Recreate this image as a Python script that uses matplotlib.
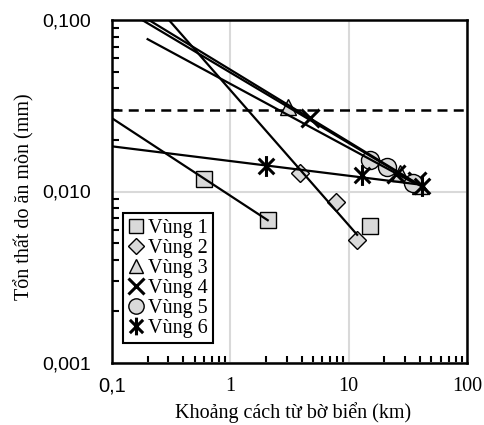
import numpy as np
import matplotlib
matplotlib.use("Agg")
import matplotlib.pyplot as plt
from matplotlib.path import Path
from matplotlib.lines import Line2D

# ---- data ----
labels = ["Vùng 1", "Vùng 2", "Vùng 3", "Vùng 4", "Vùng 5", "Vùng 6"]
x1 = [0.6, 2.07, 15.0];   y1 = [0.0119, 0.0068, 0.0063]
x2 = [3.9, 7.8, 11.8];    y2 = [0.0128, 0.0087, 0.0052]
x3 = [3.1, 27.0, 40.0];   y3 = [0.031, 0.0128, 0.0108]
x4 = [4.7, 25.0, 38.0];   y4 = [0.027, 0.0127, 0.0115]
x5 = [15.0, 21.0, 35.0];  y5 = [0.0153, 0.0139, 0.0112]
x6 = [2.0, 13.0, 42.0];   y6 = [0.0140, 0.0125, 0.0107]
limit_value = 0.03
xticks = [0.1, 1, 10, 100]
xtick_labels = ["0,1", "1", "10", "100"]
yticks = [0.001, 0.01, 0.1]
ytick_labels = ["0,001", "0,010", "0,100"]

# trend-line settings: number of points used in fit, start of backward forecast
fit_counts = [2, 3, 3, 3, 3, 3]
fit_starts = [0.1, 0.1, 0.1, 0.1, 0.2, 0.1]

SERIF = "Liberation Serif"
SANS = "Liberation Sans"

fig = plt.figure(figsize=(4.84, 4.25), dpi=100)
ax = fig.add_axes([112/484, 1-363/425, 355/484, 343/425])
ax.set_xscale("log")
ax.set_yscale("log")
ax.set_xlim(0.1, 100)
ax.set_ylim(0.001, 0.1)

ast = Path([(0, -1), (0, 1), (-0.75, -0.75), (0.75, 0.75), (-0.75, 0.75), (0.75, -0.75)],
           [Path.MOVETO, Path.LINETO, Path.MOVETO, Path.LINETO, Path.MOVETO, Path.LINETO])

face = "#d9d9d9"
styles = [
    dict(marker="s", ms=12, mfc=face, mec="black", mew=1.0),
    dict(marker="D", ms=9, mfc=face, mec="black", mew=1.0),
    dict(marker="^", ms=12, mfc=face, mec="black", mew=1.0),
    dict(marker="x", ms=13, mfc="none", mec="black", mew=2.2),
    dict(marker="o", ms=13, mfc=face, mec="black", mew=1.0),
    dict(marker=ast, ms=15, mfc="none", mec="black", mew=2.2),
]
xs = [x1, x2, x3, x4, x5, x6]
ys = [y1, y2, y3, y4, y5, y6]

handles = []
for xv, yv, st, lab, n, xs0 in zip(xs, ys, styles, labels, fit_counts, fit_starts):
    ax.plot(xv, yv, linestyle="none", zorder=3, clip_on=False, **st)
    lx = np.log10(xv[:n]); ly = np.log10(yv[:n])
    b, a = np.polyfit(lx, ly, 1)
    xx = np.logspace(np.log10(xs0), np.log10(xv[n-1]), 100)
    ax.plot(xx, 10**(a + b*np.log10(xx)), color="black", lw=1.6, zorder=4)
    hst = dict(st)
    hst["ms"] = st["ms"] * 0.85
    handles.append(Line2D([], [], linestyle="none", label=lab, **hst))

ax.axhline(limit_value, color="black", lw=1.8, ls=(0, (4, 2.5)), zorder=2)

ax.grid(True, which="major", color="#d9d9d9", lw=1.5, zorder=0)
ax.set_axisbelow(True)
for s in ax.spines.values():
    s.set_linewidth(1.8)

ax.set_xticks(xticks)
ax.set_xticklabels(xtick_labels)
ax.set_yticks(yticks)
ax.set_yticklabels(ytick_labels)
ax.tick_params(which="major", direction="in", length=0, pad=10)
ax.tick_params(which="minor", direction="in", length=5, width=1.5)
ax.tick_params(axis="y", which="major", pad=15)
for t in ax.get_yticklabels():
    t.set_fontfamily(SANS); t.set_fontsize(14)
for i, t in enumerate(ax.get_xticklabels()):
    t.set_fontfamily(SANS if i == 0 else SERIF); t.set_fontsize(14.5)
ax.yaxis.set_minor_formatter(matplotlib.ticker.NullFormatter())
ax.xaxis.set_minor_formatter(matplotlib.ticker.NullFormatter())

ax.set_xlabel("Khoảng cách từ bờ biển (km)", fontfamily=SERIF, fontsize=14.5)
ax.set_ylabel("Tổn thất do ăn mòn (mm)", fontfamily=SERIF, fontsize=14.5)
ax.xaxis.set_label_coords(0.51, -0.115)
ax.yaxis.set_label_coords(-0.217, 0.484)

leg = ax.legend(handles=handles, loc="lower left", bbox_to_anchor=(0.031, 0.058),
                borderaxespad=0, prop={"family": SERIF, "size": 14.5},
                fancybox=False, framealpha=1, edgecolor="black",
                handlelength=0.8, handletextpad=0.2, labelspacing=0.05,
                borderpad=0.25)
leg.get_frame().set_linewidth(1.5)

fig.savefig("out.png", dpi=100)
